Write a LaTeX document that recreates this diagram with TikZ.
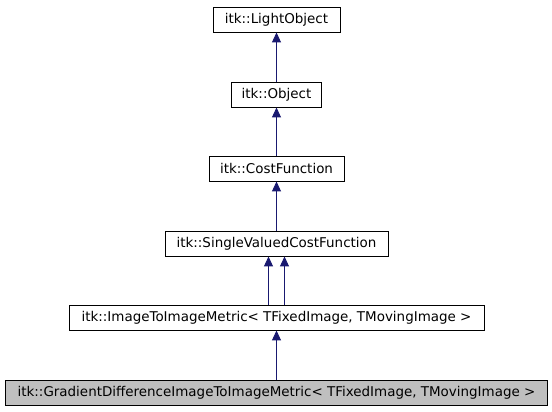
\documentclass[tikz,border=0pt]{standalone}
\usepackage{fontspec}
\setmainfont{DejaVu Sans}
\usetikzlibrary{arrows.meta, positioning}
\definecolor{edgeblue}{HTML}{191970}
\definecolor{boxgray}{HTML}{BFBFBF}

\begin{document}
\begin{tikzpicture}[x=1bp, y=-1bp,
    box/.style={draw=black, line width=0.9bp, minimum height=25bp, inner sep=0pt,
      font=\fontsize{13.5}{15}\selectfont},
    inherit/.style={edgeblue, line width=1bp, -{Triangle[length=10bp, width=9bp]}}]
      \useasboundingbox (0,0) rectangle (552,411);

      % Draw the class boxes
      \node[box, minimum width=127bp] (light) at (276.5, 19.5) {itk::LightObject};
      \node[box, minimum width=90bp] (object) at (276.5, 94.5) {itk::Object};
      \node[box, minimum width=135bp] (cost) at (276.5, 168.5) {itk::CostFunction};
      \node[box, minimum width=223bp] (single) at (276.5, 243.5) {itk::SingleValuedCostFunction};
      \node[box, minimum width=415bp] (metric) at (276.5, 317.5)
        {itk::ImageToImageMetric< TFixedImage, TMovingImage >};
      \node[box, fill=boxgray, minimum width=542bp] (gradient) at (276.5, 392.5)
        {itk::GradientDifferenceImageToImageMetric< TFixedImage, TMovingImage >};

      % Add inheritance arrows
      \draw[inherit] (object) -- (light);
      \draw[inherit] (cost) -- (object);
      \draw[inherit] (single) -- (cost);
      \draw[inherit] ([xshift=-8bp]metric.north) -- ([xshift=-8bp]single.south);
      \draw[inherit] ([xshift=8bp]metric.north) -- ([xshift=8bp]single.south);
      \draw[inherit] (gradient) -- (metric);
    \end{tikzpicture}
\end{document}
